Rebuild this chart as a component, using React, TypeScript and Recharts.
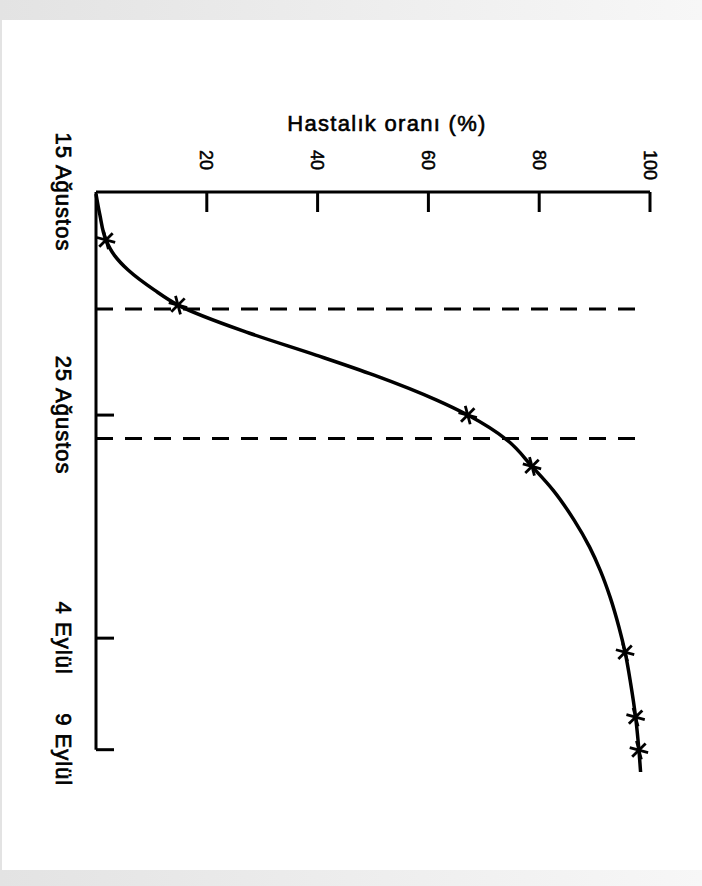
import { LineChart, Line, XAxis, YAxis, ReferenceLine } from "recharts";

// days after 15 Aug (date axis) and disease rate in %
const dayPoints = [0.09, 1.03, 2.15, 2.83, 3.5, 4.39, 5.07, 6.32, 7.31, 8.21, 9.33, 10.0, 11.12, 12.3, 13.36, 14.71, 15.92, 16.95, 18.16, 19.51, 20.63, 22.02, 23.54, 25.02, 26.0];
const ratePoints = [0, 0.7, 1.8, 3.3, 5.8, 10.5, 14.8, 27.6, 39.7, 50.2, 61.5, 67.1, 74.2, 78.7, 82.5, 86.3, 89.1, 91.0, 92.8, 94.4, 95.5, 96.5, 97.4, 98.0, 98.3];
// observations drawn with a star
const markedDays = [2.15, 5.07, 10.0, 12.3, 20.63, 23.54, 25.02];

const dateTicks = [0, 10, 20, 25];
const dateLabels = ["15 Ağustos", "25 Ağustos", "4 Eylül", "9 Eylül"];
const rateTicks = [20, 40, 60, 80, 100];

// dashed cut-off lines: day and where the dash ends on the rate axis
const cutoffDays = [5.25, 11.05];
const cutoffEnds = [98.7, 97.7];

const data = dayPoints.map((d, i) => ({
  day: d,
  rate: ratePoints[i],
  mark: markedDays.includes(d),
}));

const FONT = '"Liberation Sans", Arial, sans-serif';

const RateTick = ({ x, y, payload }: any) => (
  <g>
    <line x1={x} y1={y} x2={x} y2={y + 20} stroke="#000" strokeWidth={3} />
    <text
      x={x}
      y={y - 42}
      dy="0.36em"
      transform={`rotate(90, ${x}, ${y - 42})`}
      textAnchor="start"
      fontFamily={FONT}
      fontSize={18}
      fill="#000"
      stroke="#000"
      strokeWidth={0.5}
    >
      {payload.value}
    </text>
  </g>
);

const DateTick = ({ x, y, payload }: any) => {
  const idx = dateTicks.indexOf(payload.value);
  const tx = x - 32;
  return (
    <g>
      {payload.value !== 0 && (
        <line x1={x} y1={y} x2={x + 18} y2={y} stroke="#000" strokeWidth={3} />
      )}
      <text
        x={tx}
        y={y}
        dy="0.36em"
        transform={`rotate(90, ${tx}, ${y})`}
        textAnchor="middle"
        fontFamily={FONT}
        fontSize={22}
        letterSpacing={1}
        fill="#000"
        stroke="#000"
        strokeWidth={0.7}
      >
        {dateLabels[idx]}
      </text>
    </g>
  );
};

const starDot = (props: any) => {
  const { cx, cy, payload, index } = props;
  if (!payload.mark) return <g key={`d-${index}`} />;
  const r = 9.5;
  const arms = [15, 75, 135];
  return (
    <g key={`d-${index}`}>
      {arms.map((a) => {
        const rad = (a * Math.PI) / 180;
        const dx = Math.cos(rad) * r;
        const dy = Math.sin(rad) * r;
        return (
          <line
            key={a}
            x1={cx - dx}
            y1={cy - dy}
            x2={cx + dx}
            y2={cy + dy}
            stroke="#000"
            strokeWidth={2.8}
          />
        );
      })}
    </g>
  );
};

export default function App() {
  return (
    <div
      style={{
        position: "absolute",
        left: 0,
        top: 0,
        width: 702,
        height: 886,
        overflow: "hidden",
        background: "linear-gradient(to right, #e3e3e3, #f7f7f7)",
        fontFamily: FONT,
      }}
    >
      <div
        style={{
          position: "absolute",
          left: 2,
          top: 20,
          width: 700,
          height: 850,
          background: "#fff",
        }}
      />
      <div
        style={{
          position: "absolute",
          left: 187,
          top: 113,
          width: 400,
          textAlign: "center",
          fontSize: 22,
          lineHeight: "22px",
          letterSpacing: 1.3,
          color: "#000",
          WebkitTextStroke: "0.6px #000",
        }}
      >
        Hastalık oranı (%)
      </div>
      <div style={{ position: "absolute", left: 0, top: 0 }}>
        <LineChart
          layout="vertical"
          width={702}
          height={886}
          data={data}
          margin={{ top: 162, right: 52, bottom: 114, left: 36 }}
        >
          <XAxis
            type="number"
            dataKey="rate"
            orientation="top"
            domain={[0, 100]}
            ticks={rateTicks}
            interval={0}
            height={30}
            axisLine={{ stroke: "#000", strokeWidth: 3 }}
            tickLine={false}
            tickSize={0}
            tickMargin={0}
            tick={<RateTick />}
          />
          <YAxis
            type="number"
            dataKey="day"
            domain={[0, 26]}
            ticks={dateTicks}
            interval={0}
            width={60}
            axisLine={false}
            tickLine={false}
            tickSize={0}
            tickMargin={0}
            tick={<DateTick />}
          />
          <ReferenceLine
            segment={[
              { x: 0, y: 0 },
              { x: 0, y: 25 },
            ]}
            stroke="#000"
            strokeWidth={3}
          />
          {cutoffDays.map((d, i) => (
            <ReferenceLine
              key={d}
              segment={[
                { x: 0, y: d },
                { x: cutoffEnds[i], y: d },
              ]}
              stroke="#000"
              strokeWidth={3}
              strokeDasharray="17 12"
            />
          ))}
          <Line
            dataKey="rate"
            type="monotone"
            stroke="#000"
            strokeWidth={3.5}
            dot={starDot}
            activeDot={false}
            isAnimationActive={false}
          />
        </LineChart>
      </div>
    </div>
  );
}
